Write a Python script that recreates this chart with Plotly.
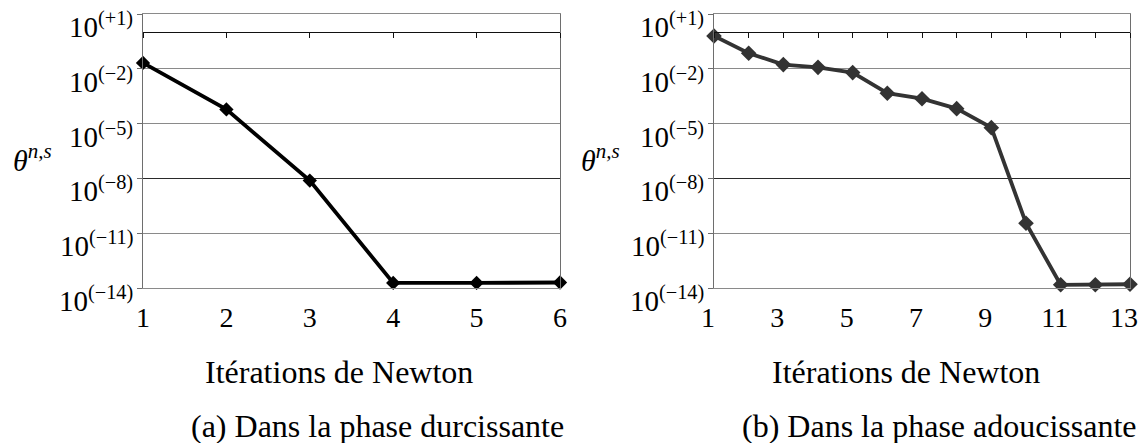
import math
import plotly.graph_objects as go

# ---- data ----
iter_a = [1, 2, 3, 4, 5, 6]
theta_a = [2.1e-2, 6.0e-5, 7.6e-9, 1.9e-14, 1.9e-14, 2.0e-14]

iter_b = [1, 2, 3, 4, 5, 6, 7, 8, 9, 10, 11, 12, 13]
theta_b = [6.3e-1, 7.1e-2, 1.7e-2, 1.2e-2, 6.2e-3, 4.6e-4, 2.3e-4, 6.6e-5,
           6.0e-6, 3.5e-11, 1.5e-14, 1.5e-14, 1.6e-14]

y_tickvals = [1e1, 1e-2, 1e-5, 1e-8, 1e-11, 1e-14]
y_ticktext = ["10<sup>(+1)</sup>", "10<sup>(−2)</sup>", "10<sup>(−5)</sup>",
              "10<sup>(−8)</sup>", "10<sup>(−11)</sup>", "10<sup>(−14)</sup>"]
y_darkgrid = [1e-8]
xticks_a = [1, 2, 3, 4, 5, 6]
xticks_b = [1, 3, 5, 7, 9, 11, 13]

xlabel = "Itérations de Newton"
ylabel = "<i>θ</i><sup><i>n,s</i></sup>"
cap_a = "(a) Dans la phase durcissante"
cap_b = "(b) Dans la phase adoucissante"

FONT = "Liberation Serif"
WIN_W, WIN_H = 1146, 443
OFF = 8                      # default page body margin
W, H = WIN_W - OFF, WIN_H - OFF

# layout geometry (window pixels)
ax_l = (143, 560)
ax_r = (714, 1130)
y_top, y_bot = 14, 288
ylog_range = [-14, 1]

def px_x(p):
    return (p - OFF) / W

def px_y(p):
    return 1 - (p - OFF) / H

dom_y = [px_y(y_bot), px_y(y_top)]
# paper position of the 10^0 level (horizontal axis crossing)
pos0 = dom_y[0] + (0 - ylog_range[0]) / (ylog_range[1] - ylog_range[0]) * (dom_y[1] - dom_y[0])

fig = go.Figure()

# invisible traces to carry the helper axes (drawn first, under the data)
fig.add_trace(go.Scatter(x=iter_a, y=theta_a, mode="markers", xaxis="x3", yaxis="y3",
                         marker=dict(opacity=0), hoverinfo="skip", showlegend=False))
fig.add_trace(go.Scatter(x=iter_b, y=theta_b, mode="markers", xaxis="x4", yaxis="y4",
                         marker=dict(opacity=0), hoverinfo="skip", showlegend=False))

fig.add_trace(go.Scatter(
    x=iter_a, y=theta_a, mode="lines+markers", xaxis="x", yaxis="y",
    line=dict(color="#000000", width=3.8),
    marker=dict(symbol="diamond", size=11, color="#000000"),
    cliponaxis=False, showlegend=False))
fig.add_trace(go.Scatter(
    x=iter_b, y=theta_b, mode="lines+markers", xaxis="x2", yaxis="y2",
    line=dict(color="#333333", width=3.8),
    marker=dict(symbol="diamond", size=12, color="#333333"),
    cliponaxis=False, showlegend=False))

grid = "#8a8a8a"
tickfont_x = dict(family=FONT, size=28, color="#000")
tickfont_y = dict(family=FONT, size=29, color="#000")

def xaxis_main(dom, rng, ticks, anchor, shift=0):
    return dict(domain=dom, range=rng, anchor=anchor, tickmode="array", tickvals=ticks,
                ticktext=[str(t) for t in ticks], showgrid=False, zeroline=False,
                showline=True, mirror=True, linecolor=grid, linewidth=1,
                ticks="", ticklabelstandoff=4, ticklabelshift=shift,
                tickfont=tickfont_x, automargin=False, ticklabeloverflow="allow")

def xaxis_cross(dom, rng, over):
    return dict(domain=dom, range=rng, overlaying=over, anchor="free", position=pos0,
                side="bottom", showline=True, linecolor="#111", linewidth=1.3,
                ticks="outside", ticklen=5, tickcolor="#111", dtick=1, tick0=1,
                showticklabels=False, showgrid=False, zeroline=False, automargin=False)

def yaxis(anchor):
    return dict(domain=dom_y, type="log", range=ylog_range, anchor=anchor,
                tickmode="array", tickvals=y_tickvals, ticktext=y_ticktext,
                showticklabels=False,
                showgrid=True, gridcolor=grid, gridwidth=1,
                showline=True, mirror=True, linecolor="#6e6e6e", linewidth=1,
                ticks="outside", ticklen=5, tickcolor="#6e6e6e", automargin=False)

def yaxis_dark(over, anchor):
    return dict(domain=dom_y, type="log", range=ylog_range, overlaying=over, anchor=anchor,
                tickmode="array", tickvals=y_darkgrid, showticklabels=False,
                showgrid=True, gridcolor="#2a2a2a", gridwidth=1.3,
                showline=False, ticks="", automargin=False)

dom_a = [px_x(ax_l[0]), px_x(ax_l[1])]
dom_b = [px_x(ax_r[0]), px_x(ax_r[1])]

annot_font = dict(family=FONT, size=32, color="#000")
ylab_font = dict(family=FONT, size=30, color="#000")
annotations = [
    dict(text=xlabel, x=px_x(339), y=px_y(372), xref="paper", yref="paper",
         showarrow=False, font=annot_font, xanchor="center", yanchor="middle"),
    dict(text=xlabel, x=px_x(906), y=px_y(372), xref="paper", yref="paper",
         showarrow=False, font=annot_font, xanchor="center", yanchor="middle"),
    dict(text=cap_a, x=px_x(377), y=px_y(426), xref="paper", yref="paper",
         showarrow=False, font=annot_font, xanchor="center", yanchor="middle"),
    dict(text=cap_b, x=px_x(939), y=px_y(426), xref="paper", yref="paper",
         showarrow=False, font=annot_font, xanchor="center", yanchor="middle"),
    dict(text=ylabel, x=px_x(32), y=px_y(158), xref="paper", yref="paper",
         showarrow=False, font=ylab_font, xanchor="center", yanchor="middle"),
    dict(text=ylabel, x=px_x(600), y=px_y(158), xref="paper", yref="paper",
         showarrow=False, font=ylab_font, xanchor="center", yanchor="middle"),
]
# y tick labels (set slightly below their gridlines, as in the reference)
for yref, axpx in (("y", ax_l[0]), ("y2", ax_r[0])):
    for v, t in zip(y_tickvals, y_ticktext):
        annotations.append(dict(
            text=t, x=px_x(axpx - 8), xref="paper", y=math.log10(v), yref=yref,
            xanchor="right", yanchor="middle", yshift=-11, showarrow=False,
            font=tickfont_y))

fig.update_layout(
    width=W, height=H,
    margin=dict(l=0, r=0, t=0, b=0),
    paper_bgcolor="white", plot_bgcolor="white",
    xaxis=xaxis_main(dom_a, [1, 6], xticks_a, "y"),
    yaxis=yaxis("x"),
    xaxis2=xaxis_main(dom_b, [1, 13], xticks_b, "y2", shift=-6),
    yaxis2=yaxis("x2"),
    xaxis3=xaxis_cross(dom_a, [1, 6], "x"),
    xaxis4=xaxis_cross(dom_b, [1, 13], "x2"),
    yaxis3=yaxis_dark("y", "x"),
    yaxis4=yaxis_dark("y2", "x2"),
    annotations=annotations,
    showlegend=False,
)

fig.write_html("out.html")
